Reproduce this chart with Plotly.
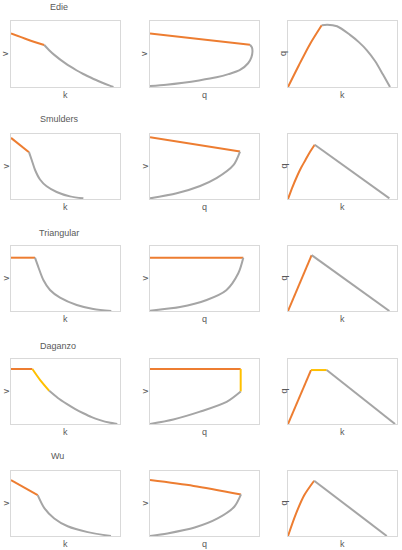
import plotly.graph_objects as go

# values are read off the picture, each panel on a 0..1 scale
# --- Edie ---
edie_vk_free_k = [0, 0.15, 0.305]
edie_vk_free_v = [0.81, 0.72, 0.636]
edie_vk_cong_k = [0.305, 0.35, 0.4, 0.5, 0.6, 0.663, 0.7, 0.8, 0.9, 0.94]
edie_vk_cong_v = [0.636, 0.558, 0.483, 0.357, 0.254, 0.197, 0.167, 0.091, 0.025, 0]
edie_vq_free_q = [0, 0.917]
edie_vq_free_v = [0.81, 0.64]
edie_vq_cong_q = [0.917, 0.935, 0.94, 0.93, 0.90, 0.826, 0.72, 0.61, 0.45, 0.306, 0.15, 0]
edie_vq_cong_v = [0.64, 0.60, 0.535, 0.45, 0.36, 0.258, 0.195, 0.147, 0.10, 0.065, 0.035, 0.015]
edie_qk_free_k = [0, 0.1, 0.2, 0.309]
edie_qk_free_q = [0, 0.33, 0.645, 0.935]
edie_qk_cong_k = [0.309, 0.36, 0.45, 0.569, 0.65, 0.722, 0.80, 0.874, 0.936]
edie_qk_cong_q = [0.935, 0.945, 0.92, 0.79, 0.68, 0.56, 0.39, 0.18, 0]

# --- Smulders ---
smul_vk_free_k = [0, 0.165]
smul_vk_free_v = [0.94, 0.72]
smul_vk_cong_k = [0.165, 0.19, 0.22, 0.266, 0.327, 0.419, 0.541, 0.664]
smul_vk_cong_v = [0.72, 0.60, 0.45, 0.30, 0.195, 0.108, 0.04, 0.01]
smul_vq_free_q = [0, 0.826]
smul_vq_free_v = [0.95, 0.73]
smul_vq_cong_q = [0.826, 0.765, 0.61, 0.46, 0.245, 0]
smul_vq_cong_v = [0.73, 0.52, 0.32, 0.20, 0.088, 0.01]
smul_qk_free_k = [0, 0.04, 0.083, 0.12, 0.16, 0.2, 0.245]
smul_qk_free_q = [0, 0.18, 0.35, 0.48, 0.6, 0.72, 0.835]
smul_qk_cong_k = [0.245, 0.93]
smul_qk_cong_q = [0.835, 0.01]

# --- Triangular ---
tri_vk_free_k = [0, 0.22]
tri_vk_free_v = [0.82, 0.82]
tri_vk_cong_k = [0.22, 0.25, 0.297, 0.358, 0.45, 0.603, 0.755, 0.92]
tri_vk_cong_v = [0.82, 0.68, 0.477, 0.323, 0.205, 0.092, 0.031, 0]
tri_vq_free_q = [0, 0.856]
tri_vq_free_v = [0.82, 0.82]
tri_vq_cong_q = [0.856, 0.81, 0.70, 0.52, 0.275, 0]
tri_vq_cong_v = [0.82, 0.58, 0.32, 0.17, 0.06, 0.005]
tri_qk_free_k = [0, 0.217]
tri_qk_free_q = [0, 0.86]
tri_qk_cong_k = [0.217, 0.93]
tri_qk_cong_q = [0.86, 0]

# --- Daganzo ---
dag_vk_free_k = [0, 0.196]
dag_vk_free_v = [0.846, 0.846]
dag_vk_cap_k = [0.196, 0.266, 0.351]
dag_vk_cap_v = [0.846, 0.68, 0.51]
dag_vk_cong_k = [0.351, 0.43, 0.511, 0.59, 0.664, 0.74, 0.817, 0.9, 0.975]
dag_vk_cong_v = [0.51, 0.40, 0.31, 0.23, 0.165, 0.105, 0.06, 0.022, 0]
dag_vq_free_q = [0, 0.832]
dag_vq_free_v = [0.846, 0.846]
dag_vq_cap_q = [0.832, 0.832]
dag_vq_cap_v = [0.846, 0.5]
dag_vq_cong_q = [0.832, 0.703, 0.459, 0.214, 0]
dag_vq_cong_v = [0.5, 0.34, 0.19, 0.07, 0]
dag_qk_free_k = [0, 0.211]
dag_qk_free_q = [0, 0.83]
dag_qk_cap_k = [0.211, 0.355]
dag_qk_cap_q = [0.83, 0.83]
dag_qk_cong_k = [0.355, 0.982]
dag_qk_cong_q = [0.83, 0]

# --- Wu ---
wu_vk_free_k = [0, 0.245]
wu_vk_free_v = [0.86, 0.63]
wu_vk_cong_k = [0.245, 0.306, 0.397, 0.52, 0.704, 0.917]
wu_vk_cong_v = [0.63, 0.43, 0.27, 0.15, 0.06, 0]
wu_vq_free_q = [0, 0.4, 0.835]
wu_vq_free_v = [0.86, 0.77, 0.64]
wu_vq_cong_q = [0.835, 0.773, 0.62, 0.41, 0.16, 0]
wu_vq_cong_v = [0.64, 0.45, 0.27, 0.13, 0.04, 0]
wu_qk_free_k = [0, 0.07, 0.15, 0.24]
wu_qk_free_q = [0, 0.33, 0.63, 0.85]
wu_qk_cong_k = [0.24, 0.906]
wu_qk_cong_q = [0.85, 0]

models = ["Edie", "Smulders", "Triangular", "Daganzo", "Wu"]

ORANGE = "#ED7D31"
GRAY = "#A5A5A5"
GOLD = "#FFC000"

# each row: [(v-k segments), (v-q segments), (q-k segments)]
panels = [
    [[(edie_vk_free_k, edie_vk_free_v, ORANGE), (edie_vk_cong_k, edie_vk_cong_v, GRAY)],
     [(edie_vq_free_q, edie_vq_free_v, ORANGE), (edie_vq_cong_q, edie_vq_cong_v, GRAY)],
     [(edie_qk_free_k, edie_qk_free_q, ORANGE), (edie_qk_cong_k, edie_qk_cong_q, GRAY)]],
    [[(smul_vk_free_k, smul_vk_free_v, ORANGE), (smul_vk_cong_k, smul_vk_cong_v, GRAY)],
     [(smul_vq_free_q, smul_vq_free_v, ORANGE), (smul_vq_cong_q, smul_vq_cong_v, GRAY)],
     [(smul_qk_free_k, smul_qk_free_q, ORANGE), (smul_qk_cong_k, smul_qk_cong_q, GRAY)]],
    [[(tri_vk_free_k, tri_vk_free_v, ORANGE), (tri_vk_cong_k, tri_vk_cong_v, GRAY)],
     [(tri_vq_free_q, tri_vq_free_v, ORANGE), (tri_vq_cong_q, tri_vq_cong_v, GRAY)],
     [(tri_qk_free_k, tri_qk_free_q, ORANGE), (tri_qk_cong_k, tri_qk_cong_q, GRAY)]],
    [[(dag_vk_free_k, dag_vk_free_v, ORANGE), (dag_vk_cap_k, dag_vk_cap_v, GOLD), (dag_vk_cong_k, dag_vk_cong_v, GRAY)],
     [(dag_vq_free_q, dag_vq_free_v, ORANGE), (dag_vq_cap_q, dag_vq_cap_v, GOLD), (dag_vq_cong_q, dag_vq_cong_v, GRAY)],
     [(dag_qk_free_k, dag_qk_free_q, ORANGE), (dag_qk_cap_k, dag_qk_cap_q, GOLD), (dag_qk_cong_k, dag_qk_cong_q, GRAY)]],
    [[(wu_vk_free_k, wu_vk_free_v, ORANGE), (wu_vk_cong_k, wu_vk_cong_v, GRAY)],
     [(wu_vq_free_q, wu_vq_free_v, ORANGE), (wu_vq_cong_q, wu_vq_cong_v, GRAY)],
     [(wu_qk_free_k, wu_qk_free_q, ORANGE), (wu_qk_cong_k, wu_qk_cong_q, GRAY)]],
]
x_titles = ["k", "q", "k"]
y_titles = ["v", "v", "q"]

W, H = 402, 550
cols = [(11, 120), (150, 259), (288, 397)]
rows = [(21, 87), (134, 199), (246, 311), (359, 424), (471, 536)]
title_pos = [(59, 7), (59, 119), (59, 233), (58, 346), (57, 456)]
ylab_x = [5, 144, 283]

fig = go.Figure()
layout = {}
annotations = []
font = dict(family="Liberation Sans", size=9, color="#595959")


def label(text, px, py, **kw):
    return dict(text=text, x=px / W, y=1 - py / H, xref="paper", yref="paper",
                xanchor="center", yanchor="middle", showarrow=False, font=font, **kw)


n = 0
for r, (top, bot) in enumerate(rows):
    for c, (left, right) in enumerate(cols):
        n += 1
        sfx = "" if n == 1 else str(n)
        ax = dict(range=[0, 1], showgrid=False, zeroline=False, showticklabels=False,
                  ticks="", showline=True, mirror=True, linecolor="#D9D9D9", linewidth=1,
                  fixedrange=True)
        layout["xaxis" + sfx] = dict(ax, domain=[left / W, right / W], anchor="y" + sfx)
        layout["yaxis" + sfx] = dict(ax, domain=[1 - bot / H, 1 - top / H], anchor="x" + sfx)
        for xs, ys, col in panels[r][c]:
            fig.add_trace(go.Scatter(x=xs, y=ys, mode="lines", xaxis="x" + sfx, yaxis="y" + sfx,
                                     line=dict(color=col, width=2, shape="spline", smoothing=0.8),
                                     showlegend=False, hoverinfo="skip"))
        annotations.append(label(x_titles[c], (left + right) / 2, bot + 8))
        annotations.append(label(y_titles[c], ylab_x[c], (top + bot) / 2, textangle=-90))
    annotations.append(label(models[r], title_pos[r][0], title_pos[r][1]))

fig.update_layout(width=W, height=H, margin=dict(l=0, r=0, t=0, b=0),
                  paper_bgcolor="white", plot_bgcolor="white",
                  annotations=annotations, **layout)
fig.write_html("out.html", config={"displayModeBar": False},
               post_script="document.body.style.margin='0';document.body.style.overflow='hidden';")
